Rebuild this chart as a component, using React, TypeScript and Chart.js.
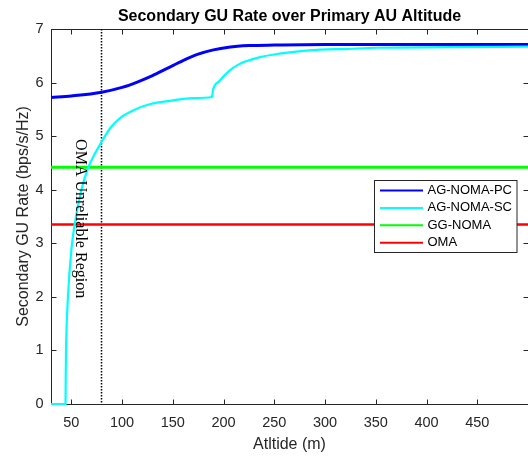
import React, { useEffect, useRef } from "react";
import { Chart, registerables } from "chart.js";

Chart.register(...registerables);

// ---------- data ----------
const pcAltitude = [30, 50, 80, 100, 115, 130, 145, 160, 175, 190, 205, 225, 250, 300, 400, 500];
const pcRate = [5.72, 5.75, 5.82, 5.91, 6.01, 6.13, 6.27, 6.41, 6.53, 6.61, 6.66, 6.69, 6.7, 6.71, 6.71, 6.71];

const scAltitude = [30, 44.3, 44.5, 44.8, 46.7, 50.2, 53.3, 60, 66.6, 72.9, 79.4, 89.2, 98.9, 111.9, 128, 147.6, 170, 188.6, 189.6, 196, 205, 215, 235, 255, 284, 323, 352, 420, 500];
const scRate = [0, 0, 0.5, 1.0, 2.0, 2.9, 3.35, 4.0, 4.41, 4.66, 4.88, 5.17, 5.35, 5.49, 5.6, 5.66, 5.71, 5.73, 5.86, 6.03, 6.21, 6.34, 6.47, 6.54, 6.6, 6.63, 6.65, 6.66, 6.67];

const ggAltitude = [30, 500];
const ggRate = [4.42, 4.42];

const omaAltitude = [30, 500];
const omaRate = [3.35, 3.35];

const seriesLabels = ["AG-NOMA-PC", "AG-NOMA-SC", "GG-NOMA", "OMA"];
const seriesColors = ["#0000FF", "#00FFFF", "#00FF00", "#FF0000"];

const xTicks = [50, 100, 150, 200, 250, 300, 350, 400, 450];
const yTicks = [0, 1, 2, 3, 4, 5, 6, 7];
const xRange = [30, 500];
const yRange = [0, 7];

const unreliableAltitude = 79;
const regionText = "OMA Unreliable Region";
const regionTextAltitude = 59;
const regionTextRate = 3.46;

const titleText = "Secondary GU Rate over Primary AU Altitude";
const xTitle = "Atltide (m)";
const yTitle = "Secondary GU Rate (bps/s/Hz)";

const SANS = '"Liberation Sans", Arial, Helvetica, sans-serif';
const SERIF = '"Liberation Serif", "Times New Roman", serif';
const AXIS_COLOR = "#262626";

const toPoints = (xs: number[], ys: number[]) => xs.map((x, i) => ({ x, y: ys[i] }));

const framePlugin = {
  id: "matlabFrame",
  beforeDatasetsDraw(chart: any) {
    const { ctx, chartArea: a, scales } = chart;
    const xs = scales.x;
    const ys = scales.y;
    ctx.save();

    // box
    const L = Math.round(a.left) + 0.5;
    const R = Math.round(a.right) + 0.5;
    const T = Math.round(a.top) + 0.5;
    const B = Math.round(a.bottom) + 0.5;
    ctx.strokeStyle = AXIS_COLOR;
    ctx.lineWidth = 1;
    ctx.strokeRect(L, T, R - L, B - T);

    // inward ticks
    const tl = 5;
    ctx.beginPath();
    for (const t of xs.ticks) {
      const p = Math.round(xs.getPixelForValue(t.value)) + 0.5;
      ctx.moveTo(p, B);
      ctx.lineTo(p, B - tl);
      ctx.moveTo(p, T);
      ctx.lineTo(p, T + tl);
    }
    for (const t of ys.ticks) {
      const p = Math.round(ys.getPixelForValue(t.value)) + 0.5;
      ctx.moveTo(L, p);
      ctx.lineTo(L + tl, p);
      ctx.moveTo(R, p);
      ctx.lineTo(R - tl, p);
    }
    ctx.stroke();

    // dotted boundary
    const px = Math.round(xs.getPixelForValue(unreliableAltitude)) + 0.5;
    ctx.strokeStyle = "#000";
    ctx.lineWidth = 1.5;
    ctx.setLineDash([1.5, 1.5]);
    ctx.beginPath();
    ctx.moveTo(px, a.top);
    ctx.lineTo(px, a.bottom);
    ctx.stroke();
    ctx.restore();
  },
  afterDatasetsDraw(chart: any) {
    const { ctx, chartArea: a, scales } = chart;
    const xs = scales.x;
    const ys = scales.y;
    ctx.save();

    // rotated annotation text
    ctx.save();
    ctx.translate(xs.getPixelForValue(regionTextAltitude), ys.getPixelForValue(regionTextRate));
    ctx.rotate(Math.PI / 2);
    ctx.font = `16px ${SERIF}`;
    ctx.fillStyle = "#000";
    ctx.textAlign = "center";
    ctx.textBaseline = "middle";
    ctx.fillText(regionText, 0, 0);
    ctx.restore();

    // legend
    const bx = Math.round(a.right) - 153.5;
    const by = Math.round(a.top) + 151.5;
    const bw = 142.5;
    const bh = 72;
    ctx.fillStyle = "#fff";
    ctx.fillRect(bx, by, bw, bh);
    ctx.strokeStyle = AXIS_COLOR;
    ctx.lineWidth = 1;
    ctx.strokeRect(bx, by, bw, bh);
    ctx.font = `13px ${SANS}`;
    ctx.textAlign = "left";
    ctx.textBaseline = "middle";
    seriesLabels.forEach((label, i) => {
      const ry = by + 10 + i * 17.4;
      ctx.strokeStyle = seriesColors[i];
      ctx.lineWidth = 2;
      ctx.beginPath();
      ctx.moveTo(bx + 5.5, ry);
      ctx.lineTo(bx + 48.5, ry);
      ctx.stroke();
      ctx.fillStyle = "#000";
      ctx.fillText(label, bx + 53, ry);
    });

    ctx.restore();
  },
};

export default function App() {
  const canvasRef = useRef<HTMLCanvasElement | null>(null);

  useEffect(() => {
    if (!canvasRef.current) return;
    const chart = new Chart(canvasRef.current, {
      type: "line",
      data: {
        datasets: [
          {
            label: seriesLabels[0],
            data: toPoints(pcAltitude, pcRate),
            borderColor: seriesColors[0],
            borderWidth: 3,
            cubicInterpolationMode: "monotone",
            order: 1,
          },
          {
            label: seriesLabels[1],
            data: toPoints(scAltitude, scRate),
            borderColor: seriesColors[1],
            borderWidth: 2.2,
            cubicInterpolationMode: "monotone",
            order: 0,
          },
          {
            label: seriesLabels[2],
            data: toPoints(ggAltitude, ggRate),
            borderColor: seriesColors[2],
            borderWidth: 3,
            order: 2,
          },
          {
            label: seriesLabels[3],
            data: toPoints(omaAltitude, omaRate),
            borderColor: seriesColors[3],
            borderWidth: 2.5,
            order: 3,
          },
        ].map((d) => ({ ...d, pointRadius: 0, fill: false, clip: false as any })),
      },
      options: {
        responsive: false,
        animation: false,
        layout: { padding: 0 },
        plugins: {
          legend: { display: false },
          tooltip: { enabled: false },
          title: {
            display: true,
            text: titleText,
            color: "#000",
            fullSize: false,
            font: { family: SANS, size: 16, weight: "bold", lineHeight: 1 },
            padding: { top: 9, bottom: 4 },
          },
        },
        scales: {
          x: {
            type: "linear",
            min: xRange[0],
            max: xRange[1],
            afterBuildTicks: (scale: any) => {
              scale.ticks = xTicks.map((v) => ({ value: v }));
            },
            afterFit: (scale: any) => {
              scale.height = 52;
            },
            grid: { display: false, drawTicks: false },
            border: { display: false },
            ticks: {
              autoSkip: false,
              maxRotation: 0,
              padding: 10,
              color: AXIS_COLOR,
              font: { family: SANS, size: 14.5 },
            },
            title: {
              display: true,
              text: xTitle,
              color: AXIS_COLOR,
              font: { family: SANS, size: 16, lineHeight: 1 },
              padding: { top: 0, bottom: 3 },
            },
          },
          y: {
            type: "linear",
            min: yRange[0],
            max: yRange[1],
            afterBuildTicks: (scale: any) => {
              scale.ticks = yTicks.map((v) => ({ value: v }));
            },
            afterFit: (scale: any) => {
              scale.width = 51;
            },
            grid: { display: false, drawTicks: false },
            border: { display: false },
            ticks: {
              padding: 7.5,
              color: AXIS_COLOR,
              font: { family: SANS, size: 14.5 },
            },
            title: {
              display: true,
              text: yTitle,
              color: AXIS_COLOR,
              font: { family: SANS, size: 16, lineHeight: 1 },
              padding: { top: 16, bottom: 0 },
            },
          },
        },
      },
      plugins: [framePlugin],
    });
    return () => chart.destroy();
  }, []);

  return (
    <div style={{ position: "absolute", left: 0, top: 0, width: 528, height: 456, background: "#fff" }}>
      <canvas ref={canvasRef} width={528} height={456} style={{ display: "block" }} />
    </div>
  );
}
